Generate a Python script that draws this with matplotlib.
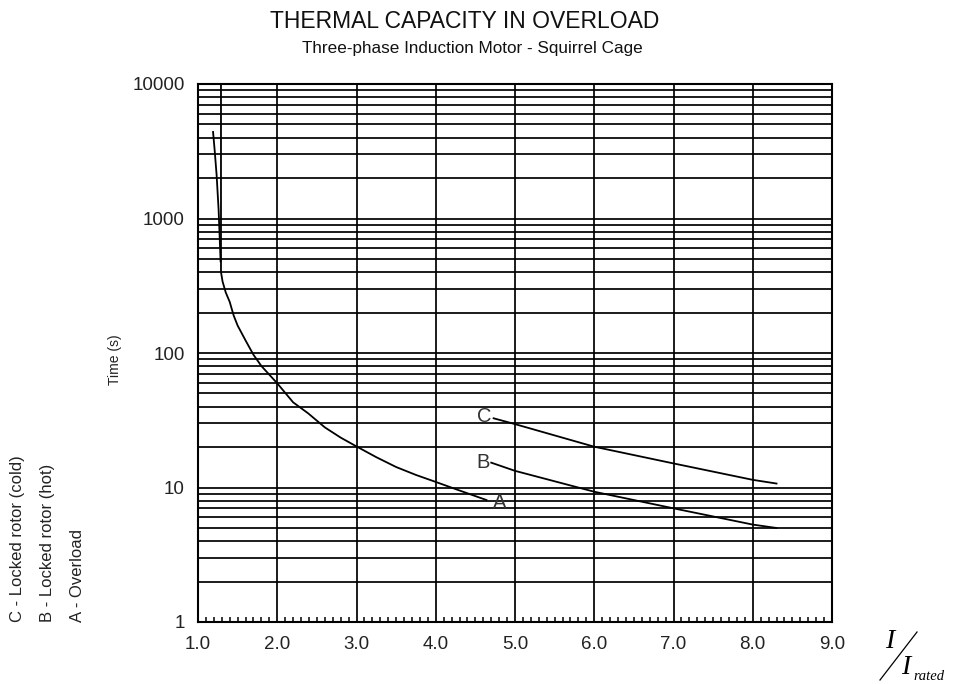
import matplotlib
matplotlib.use("Agg")
import matplotlib.pyplot as plt
from matplotlib.lines import Line2D
from matplotlib.ticker import LogLocator, MultipleLocator, NullFormatter

plt.rcParams['font.family'] = ['Liberation Sans', 'DejaVu Sans']

# Overload curve (A): main branch and the short strand near the asymptote
a_x = [1.29, 1.29, 1.31, 1.35, 1.40, 1.45, 1.50, 1.60, 1.70, 1.80, 2.0, 2.2,
       2.39, 2.6, 2.8, 3.0, 3.25, 3.5, 3.75, 4.0, 4.3, 4.64]
a_y = [10000, 400, 340, 282, 240, 190, 160, 124, 97, 80, 59.5, 43,
       35.6, 28.0, 23.5, 20.2, 16.8, 14.2, 12.4, 11.0, 9.5, 8.07]
a2_x = [1.19, 1.21, 1.235, 1.26, 1.275, 1.285]
a2_y = [4400, 3230, 2100, 1160, 690, 480]

# Locked rotor, hot (B) and cold (C)
b_x = [4.70, 5.0, 6.0, 7.0, 8.0, 8.3]
b_y = [15.3, 13.3, 9.3, 7.0, 5.3, 5.0]
c_x = [4.73, 5.0, 6.0, 7.0, 8.0, 8.3]
c_y = [32.7, 29.6, 20.1, 15.1, 11.4, 10.7]

x_ticks = [1, 2, 3, 4, 5, 6, 7, 8, 9]
x_tick_labels = ['1.0', '2.0', '3.0', '4.0', '5.0', '6.0', '7.0', '8.0', '9.0']
y_ticks = [1, 10, 100, 1000, 10000]
y_tick_labels = ['1', '10', '100', '1000', '10000']

W, H = 954, 684
fig = plt.figure(figsize=(W / 100, H / 100), dpi=100)
ax = fig.add_axes([198 / W, 1 - 622 / H, (832 - 198) / W, (622 - 84) / H])

ax.set_yscale('log')
ax.set_xlim(1, 9)
ax.set_ylim(1, 10000)

ax.set_xticks(x_ticks)
ax.set_xticklabels(x_tick_labels)
ax.set_yticks(y_ticks)
ax.set_yticklabels(y_tick_labels)
ax.yaxis.set_minor_locator(LogLocator(base=10, subs=range(2, 10)))
ax.yaxis.set_minor_formatter(NullFormatter())
ax.xaxis.set_minor_locator(MultipleLocator(0.1))

ax.grid(True, which='major', axis='both', color='black', lw=1.25)
ax.grid(True, which='minor', axis='y', color='black', lw=1.25)
ax.set_axisbelow(True)

ax.tick_params(axis='y', which='both', length=0, pad=9.5, labelsize=13.5,
               labelcolor='#222222')
ax.tick_params(axis='x', which='major', length=0, pad=10, labelsize=13.5,
               labelcolor='#222222')
ax.tick_params(axis='x', which='minor', direction='in', length=3.8, width=1.1)
for s in ax.spines.values():
    s.set_color('black')
    s.set_linewidth(1.5)

line_kw = dict(color='black', lw=1.3, solid_joinstyle='round')
ax.plot(a_x, a_y, **line_kw)
ax.plot(a2_x, a2_y, **line_kw)
ax.plot(b_x, b_y, **line_kw)
ax.plot(c_x, c_y, **line_kw)

lab_kw = dict(fontsize=14.5, color='#333333', ha='center', va='center')
ax.text(4.81, 7.8, 'A', **lab_kw)
ax.text(4.60, 15.3, 'B', **lab_kw)
ax.text(4.61, 33.7, 'C', **lab_kw)

# Titles
fig.text(465 / W, 1 - 22 / H, 'THERMAL CAPACITY IN OVERLOAD', fontsize=16.5,
         ha='center', va='center', color='#111111')
fig.text(472 / W, 1 - 48 / H, 'Three-phase Induction Motor - Squirrel Cage',
         fontsize=12.3, ha='center', va='center', color='#111111')

# Axis titles
fig.text(115 / W, 1 - 360 / H, 'Time (s)', fontsize=10, rotation=90,
         ha='center', va='center', color='#222222')

legend_kw = dict(fontsize=12, rotation=90, ha='center', va='bottom',
                 color='#222222')
fig.text(18 / W, 1 - 622 / H, 'C - Locked rotor (cold)', **legend_kw)
fig.text(48 / W, 1 - 622 / H, 'B - Locked rotor (hot)', **legend_kw)
fig.text(78 / W, 1 - 622 / H, 'A - Overload', **legend_kw)

# I / I_rated
serif = ['Liberation Serif', 'DejaVu Serif']
fig.text(890 / W, 1 - 642 / H, 'I', fontsize=20, family=serif, style='italic',
         ha='center', va='center')
fig.text(906 / W, 1 - 667 / H, 'I', fontsize=20, family=serif, style='italic',
         ha='center', va='center')
fig.text(913 / W, 1 - 676 / H, 'rated', fontsize=10.5, family=serif,
         style='italic', ha='left', va='center')
fig.add_artist(Line2D([880 / W, 917 / W], [1 - 680 / H, 1 - 632 / H],
                      transform=fig.transFigure, color='black', lw=0.9))

fig.savefig('out.png', dpi=100)
